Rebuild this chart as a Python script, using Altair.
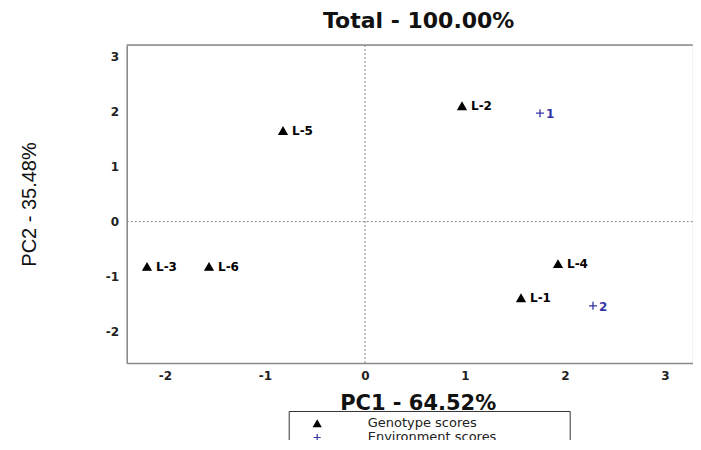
import altair as alt
import pandas as pd

# ---- data ----
geno_names = ["L-1", "L-2", "L-3", "L-4", "L-5", "L-6"]
geno_pc1 = [1.56, 0.97, -2.18, 1.93, -0.82, -1.56]
geno_pc2 = [-1.39, 2.10, -0.82, -0.77, 1.65, -0.82]

env_names = ["1", "2"]
env_pc1 = [1.75, 2.28]
env_pc2 = [1.97, -1.53]

tick_vals = [-2, -1, 0, 1, 2, 3]
x_range = [-2.383, 3.277]
y_range = [-2.57, 3.21]

types = ["Genotype scores", "Environment scores"]
type_colors = ["#000000", "#3535a8"]
type_fills = ["#000000", "transparent"]
type_shapes = ["triangle-up", "M-1,0L1,0M0,-1L0,1"]

df = pd.DataFrame({
    "name": geno_names + env_names,
    "PC1": geno_pc1 + env_pc1,
    "PC2": geno_pc2 + env_pc2,
    "type": [types[0]] * len(geno_names) + [types[1]] * len(env_names),
})
df_geno = df[df["type"] == types[0]]
df_env = df[df["type"] == types[1]]
df_one = pd.DataFrame({"k": [0]})

FONT_B = "DejaVu Sans"
xscale = alt.Scale(domain=x_range, nice=False, zero=False)
yscale = alt.Scale(domain=y_range, nice=False, zero=False)

x_axis = alt.Axis(values=tick_vals, grid=False, ticks=False, labelPadding=8,
                  labelExpr="'' + datum.value",
                  labelFont=FONT_B, labelFontWeight="bold", labelFontSize=12,
                  labelColor="#222222", domainColor="#888888", domainWidth=1.5,
                  title="PC1 - 64.52%", titleFont=FONT_B, titleFontSize=21,
                  titleFontWeight="bold", titleColor="#111111",
                  titleX=291, titleY=41, titleAlign="center", titleBaseline="middle")
y_axis = alt.Axis(values=tick_vals, grid=False, ticks=False, labelPadding=8,
                  labelExpr="'' + datum.value",
                  labelFont=FONT_B, labelFontWeight="bold", labelFontSize=12,
                  labelColor="#222222", domainColor="#888888", domainWidth=1.5,
                  title="PC2 - 35.48%", titleFont="Liberation Sans", titleFontSize=20,
                  titleFontWeight="normal", titleColor="#111111",
                  titleX=-97, titleY=159, titleAngle=-90, titleAlign="center",
                  titleBaseline="middle")

PAD = "\u2800" * 7  # blank glyphs to widen the legend box (not trimmed by Vega)
legend = alt.Legend(orient="none", legendX=162, legendY=366, title=None,
                    strokeColor="#333333", padding=6, symbolOffset=16,
                    labelOffset=44, labelFont="DejaVu Sans", labelFontSize=13,
                    labelColor="#222222", rowPadding=0, symbolSize=50,
                    symbolStrokeWidth=1.2,
                    labelExpr="datum.label + '" + PAD + "'", labelLimit=500)

vline = alt.Chart(df_one).mark_rule(color="#888888", strokeDash=[2, 2], strokeWidth=1).encode(
    x=alt.X(datum=0, scale=xscale)
)
hline = alt.Chart(df_one).mark_rule(color="#888888", strokeDash=[2, 2], strokeWidth=1).encode(
    y=alt.Y(datum=0, scale=yscale)
)
top_border = alt.Chart(df_one).mark_rule(color="#888888", strokeWidth=1.5).encode(
    x=alt.X(datum=x_range[0], scale=xscale),
    x2=alt.X2(datum=x_range[1]),
    y=alt.Y(datum=y_range[1], scale=yscale),
)

points = alt.Chart(df).mark_point(size=64, strokeWidth=1.3, opacity=1).encode(
    x=alt.X("PC1:Q", scale=xscale, axis=x_axis),
    y=alt.Y("PC2:Q", scale=yscale, axis=y_axis),
    shape=alt.Shape("type:N", scale=alt.Scale(domain=types, range=type_shapes), legend=legend),
    stroke=alt.Stroke("type:N", scale=alt.Scale(domain=types, range=type_colors), legend=legend),
    fill=alt.Fill("type:N", scale=alt.Scale(domain=types, range=type_fills), legend=legend),
)

geno_labels = alt.Chart(df_geno).mark_text(align="left", baseline="middle", dx=9, font=FONT_B,
                                           fontSize=12, fontWeight="bold",
                                           color=type_colors[0]).encode(
    x=alt.X("PC1:Q", scale=xscale),
    y=alt.Y("PC2:Q", scale=yscale),
    text="name:N",
)
env_labels = alt.Chart(df_env).mark_text(align="left", baseline="middle", dx=6, dy=1,
                                         font=FONT_B, fontSize=12, fontWeight="bold",
                                         color=type_colors[1]).encode(
    x=alt.X("PC1:Q", scale=xscale),
    y=alt.Y("PC2:Q", scale=yscale),
    text="name:N",
)

chart = alt.layer(points, geno_labels, env_labels, vline, hline, top_border).properties(
    width=566,
    height=318,
    padding={"left": 118.7, "top": 37, "right": 0, "bottom": 77},
    autosize=alt.AutoSizeParams(type="none"),
    title=alt.TitleParams("Total - 100.00%", font=FONT_B, fontSize=22, fontWeight="bold",
                          color="#111111", offset=11, dx=9, anchor="middle"),
).configure_view(strokeWidth=0, stroke="transparent").configure(background="white")

chart.save("out.html", embed_options={"renderer": "svg", "actions": False})
